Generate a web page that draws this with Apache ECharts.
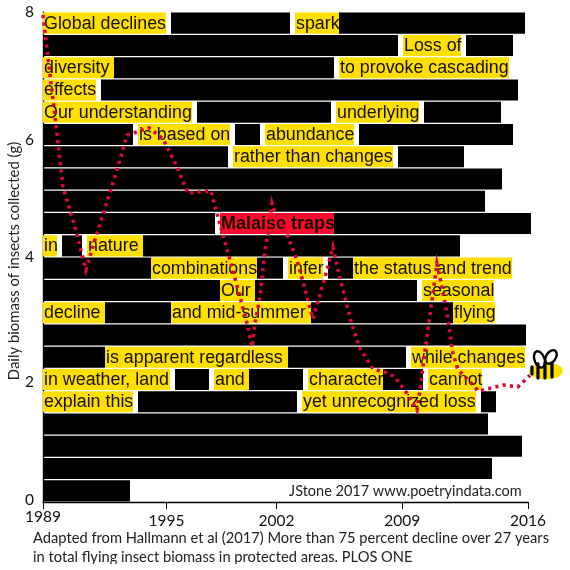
<!DOCTYPE html>
<html><head><meta charset="utf-8">
<style>html,body{margin:0;padding:0;background:#fff}#c{width:570px;height:570px}</style>
<script src="https://cdn.jsdelivr.net/npm/echarts@6/dist/echarts.min.js"></script>
</head><body><div id="c"></div>
<script>
const yearsBiomass = [
[1989.00,7.95],[1989.28,7.25],[1989.67,6.29],[1990.11,5.14],[1990.78,4.49],[1991.39,3.79],[1992.01,4.39],
[1993.12,5.42],[1993.68,5.99],[1994.01,6.02],[1994.90,6.11],[1995.68,5.93],[1996.46,5.47],[1997.07,5.04],
[1998.35,5.08],[1998.74,4.65],[1999.41,3.95],[2000.36,2.92],[2000.64,2.53],[2000.80,2.92],[2001.08,3.35],
[2001.36,4.11],[2001.58,4.49],[2001.75,4.88],[2001.92,4.73],[2002.64,4.33],[2003.14,3.95],[2003.70,3.35],
[2004.03,2.99],[2004.70,3.67],[2005.14,4.16],[2005.53,3.66],[2006.20,2.89],[2006.65,2.51],[2007.37,2.17],
[2008.15,2.11],[2008.60,2.04],[2009.32,1.75],[2009.82,1.50],[2009.99,1.83],[2010.27,2.48],[2010.66,3.30],
[2010.93,3.89],[2011.21,3.51],[2011.55,2.97],[2011.82,2.43],[2012.10,2.16],[2012.94,1.91],[2013.22,1.81],
[2014.61,1.91],[2015.44,1.88],[2016.11,2.07]];
const xTickValues = [1989,1995.88,2002,2009,2016];
const yTickValues = [0.03,1.96,4,5.91,8];
const beeAt = [2017.0,2.14];
const rows = Array.from({length:22},(_,i)=>'line'+(i+1));
// [row, start, end, kind, words]  start/end on the hidden 0-485 text-width axis; kind b=blacked out, y=highlight, r=red highlight
const poemSpans = [
[0,0,123,'y','Global declines'],[0,128,247,'b',''],[0,252,296,'y','spark'],[0,296,482,'b',''],
[1,0,355,'b',''],[1,360,418,'y','Loss of'],[1,423,470,'b',''],
[2,0,71,'y','diversity'],[2,71,291,'b',''],[2,296,466,'y','to provoke cascading'],
[3,0,53,'y','effects'],[3,58,475,'b',''],
[4,0,149,'y','Our understanding'],[4,154,288,'b',''],[4,293,376,'y','underlying'],[4,381,458,'b',''],
[5,0,90,'b',''],[5,95,187,'y','is based on'],[5,192,217,'b',''],[5,222,311,'y','abundance'],[5,316,470,'b',''],
[6,0,185,'b',''],[6,190,350,'y','rather than changes'],[6,355,421,'b',''],
[7,0,459,'b',''],
[8,0,442,'b',''],
[9,0,172,'b',''],[9,177,291,'r','Malaise traps'],[9,291,488,'b',''],
[10,0,14,'y','in'],[10,19,39,'b',''],[10,44,100,'y','nature'],[10,100,417,'b',''],
[11,0,108,'b',''],[11,108,214,'y','combinations'],[11,214,240,'b',''],[11,245,280,'y','infer'],[11,285,310,'b',''],[11,310,469,'y','the status and trend'],
[12,0,177,'b',''],[12,177,212,'y','Our'],[12,212,374,'b',''],[12,379,451,'y','seasonal'],
[13,0,62,'y','decline'],[13,62,128,'b',''],[13,128,268,'y','and mid-summer'],[13,268,410,'b',''],[13,410,452,'y','flying'],
[14,0,483,'b',''],
[15,0,62,'b',''],[15,62,245,'y','is apparent regardless'],[15,245,363,'b',''],[15,368,482,'y','while changes'],
[16,0,127,'y','in weather, land'],[16,132,166,'b',''],[16,171,206,'y','and'],[16,206,260,'b',''],[16,265,340,'y','character'],[16,340,380,'b',''],[16,385,439,'y','cannot'],
[17,0,90,'y','explain this'],[17,95,254,'b',''],[17,259,433,'y','yet unrecognized loss'],[17,438,453,'b',''],
[18,0,445,'b',''],
[19,0,479,'b',''],
[20,0,449,'b',''],
[21,0,87,'b','']];
const yAxisTitle = 'Daily biomass of insects collected (g)';
const creditText = 'JStone 2017 www.poetryindata.com';
const sourceLine1 = 'Adapted from Hallmann et al (2017) More than 75 percent decline over 27 years';
const sourceLine2 = 'in total flying insect biomass in protected areas. PLOS ONE';

const fills = {b:'#000000', y:'#ffdf00', r:'#ff0a2c'};
const textFont = '"Liberation Sans", Arial, sans-serif';
const labelFont = 'Lato, sans-serif';

function renderSpan(params, api){
  const s = poemSpans[params.dataIndex];
  const a = api.coord([s[1], s[0]]), b = api.coord([s[2], s[0]]);
  const band = api.size([0,1])[1], h = band*0.945;
  const children = [{type:'rect', shape:{x:a[0], y:a[1]-h/2, width:b[0]-a[0], height:h}, style:{fill:fills[s[3]]}}];
  if (s[4]) children.push({type:'text', style:{
    x:a[0]+1, y:a[1]+0.5, text:s[4], fill:'#141000', textVerticalAlign:'middle', textAlign:'left',
    font:(s[3]==='r'?'bold 18px ':'17.85px ')+textFont}});
  return {type:'group', children};
}
function renderBee(params, api){
  const p = api.coord(beeAt);
  const stripe = (x,y1,y2)=>({type:'line', shape:{x1:x,y1:y1,x2:x,y2:y2}, style:{stroke:'#000',lineWidth:3.2,lineCap:'round'}});
  return {type:'group', x:p[0], y:p[1], children:[
    {type:'ellipse', shape:{cx:0,cy:0,rx:17,ry:8.5}, style:{fill:'#ffdf00'}},
    {type:'ellipse', shape:{cx:-6.5,cy:-11.5,rx:5,ry:8.5}, rotation:0.35, originX:-6.5, originY:-11.5, style:{fill:'#fff',stroke:'#000',lineWidth:2.4}},
    {type:'ellipse', shape:{cx:5,cy:-14,rx:4.8,ry:7.5}, rotation:-0.6, originX:5, originY:-14, style:{fill:'#fff',stroke:'#000',lineWidth:2.4}},
    stripe(-14,-4,3), stripe(-8,-7,7), stripe(-1,-8,7), stripe(6,-8,6)
  ]};
}
const chart = echarts.init(document.getElementById('c'), null, {renderer:'canvas'});
chart.setOption({
  animation:false,
  backgroundColor:'#fff',
  grid:{left:43, right:42, top:12, bottom:68, containLabel:false, outerBoundsMode:'none'},
  xAxis:[{
    type:'value', min:1989, max:2016, splitLine:{show:false},
    axisLine:{show:true,onZero:false,lineStyle:{color:'#000',width:1.4}},
    axisTick:{show:true,length:7,lineStyle:{color:'#000',width:1},customValues:xTickValues},
    axisLabel:{customValues:xTickValues, margin:6, color:'#111', fontFamily:labelFont, fontSize:15.5, hideOverlap:false,
      formatter:v=>{const y=Math.floor(v); return y===1989?'{a|'+y+'}':'{b|'+y+'}';},
      rich:{a:{fontFamily:labelFont,fontSize:15.5,color:'#111',padding:[1,0,0,0]},b:{fontFamily:labelFont,fontSize:15.5,color:'#111',padding:[5,0,0,0]}}}
  },{type:'value', min:0, max:485, show:false}],
  yAxis:[{
    type:'value', min:0, max:8, splitLine:{show:false},
    axisLine:{show:true,onZero:false,lineStyle:{color:'#000',width:1.4}},
    axisTick:{show:false},
    axisLabel:{customValues:yTickValues, margin:9, color:'#111', fontFamily:labelFont, fontSize:15.5, formatter:v=>String(Math.round(v))}
  },{type:'category', data:rows, inverse:true, show:false}],
  series:[
    {type:'custom', xAxisIndex:1, yAxisIndex:1, z:2, renderItem:renderSpan, clip:false,
     data:poemSpans.map(s=>[s[1],s[0],s[2]]), encode:{x:[0,2],y:1}, silent:true},
    {type:'line', xAxisIndex:0, yAxisIndex:0, z:5, data:yearsBiomass, showSymbol:false, symbol:'none', clip:false,
     lineStyle:{color:'#d80a35',width:3.6,type:[3.2,4.2],join:'miter',miterLimit:30,cap:'butt'}, silent:true},
    {type:'custom', xAxisIndex:0, yAxisIndex:0, z:6, renderItem:renderBee, clip:false, data:[beeAt], encode:{x:0,y:1}, silent:true}
  ],
  graphic:[
    {type:'text', x:14, y:261, rotation:Math.PI/2, z:10, style:{text:yAxisTitle, font:'14.9px '+labelFont, fill:'#222', textAlign:'center', textVerticalAlign:'middle'}},
    {type:'text', left:289, top:484, z:10, style:{text:creditText, font:'14.5px '+labelFont, fill:'#222'}},
    {type:'text', left:33, top:531, z:10, style:{text:sourceLine1, font:'14.7px '+labelFont, fill:'#222'}},
    {type:'text', left:33, top:550, z:10, style:{text:sourceLine2, font:'14.7px '+labelFont, fill:'#222'}},
    {type:'rect', left:0, top:564, z:11, shape:{width:570,height:6}, style:{fill:'#fff'}}
  ]
});
</script></body></html>
